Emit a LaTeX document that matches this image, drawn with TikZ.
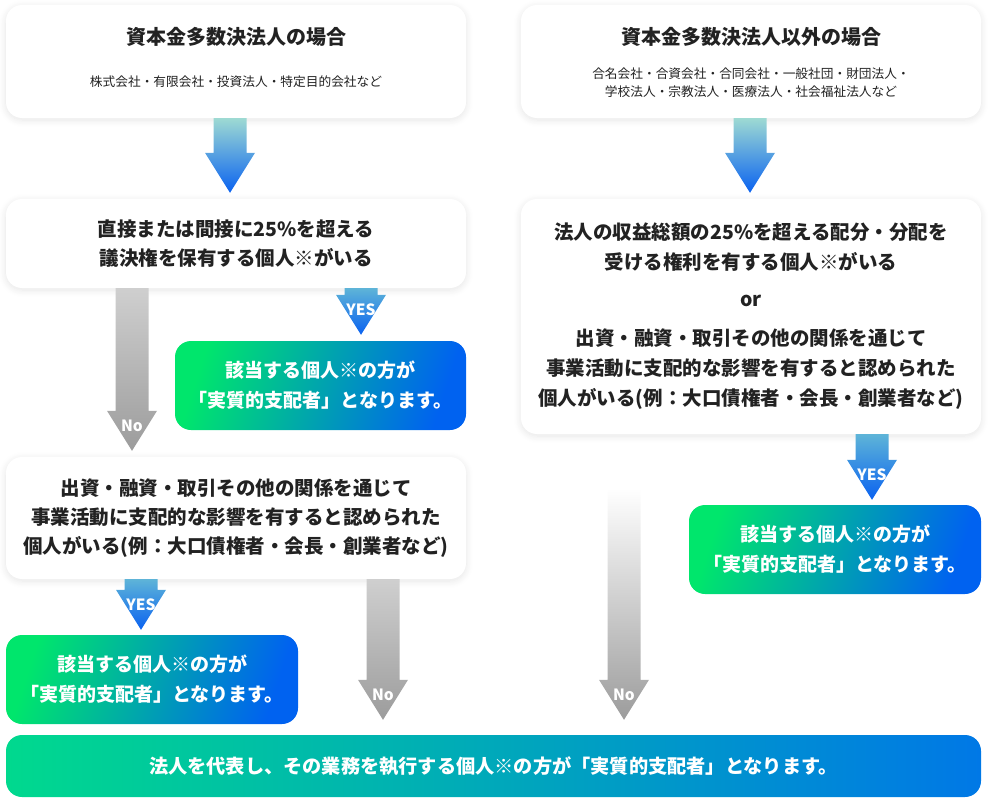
\documentclass[tikz,border=0pt]{standalone}
\usepackage{fontspec}
\setmainfont{Noto Sans CJK JP}
\usetikzlibrary{calc,shadows.blur}

\definecolor{txt}{HTML}{222222}
\definecolor{arrtop}{HTML}{9EDAD3}
\definecolor{yestop}{HTML}{5EB4D8}
\definecolor{arrbot}{HTML}{0A62F0}
\definecolor{graytop}{HTML}{CFCFCF}
\definecolor{graybot}{HTML}{9C9C9C}
\definecolor{grn}{HTML}{00E66C}
\definecolor{blu}{HTML}{0062F0}
\definecolor{grnb}{HTML}{00D98E}
\definecolor{blub}{HTML}{0078E6}

\tikzset{
  wbox/.style={fill=white, rounded corners=16pt, inner sep=0pt, minimum width=460pt,
    text=txt, align=center, font=\fontsize{19.5}{29}\selectfont\bfseries,
    blur shadow={shadow xshift=0pt, shadow yshift=-2pt, shadow blur radius=7pt,
      shadow opacity=10, shadow blur steps=10}},
  gbox/.style={rounded corners=16pt, inner sep=0pt, minimum width=292pt, minimum height=89pt,
    left color=grn, right color=blu, shading angle=72, text=white, align=center,
    font=\fontsize{19}{30}\selectfont\bfseries},
  titletext/.style={text=txt, font=\fontsize{20}{20}\selectfont\bfseries},
  subtext/.style={text=txt, align=center, font=\fontsize{12.7}{18}\selectfont},
  bluearrow/.style={top color=arrtop, bottom color=arrbot},
  yesarrow/.style={top color=yestop, bottom color=arrbot},
  grayarrow/.style={top color=graytop, bottom color=graybot},
  fadearrow/.style={top color=white, bottom color=graybot},
  lbl/.style={text=white, inner sep=0pt, font=\fontsize{15.5}{15.5}\selectfont\bfseries}
}

% block arrow: style, start, tip, label
\newcommand\flowarrow[4]{%
  \shade[#1] let \p1=(#2), \p2=(#3) in
    (\x1-16.5pt,\y1) -- (\x1+16.5pt,\y1) -- (\x1+16.5pt,\y2+40pt) -- (\x1+25pt,\y2+40pt)
    -- (\x1,\y2) -- (\x1-25pt,\y2+40pt) -- (\x1-16.5pt,\y2+40pt) -- cycle;
  \path let \p1=(#2), \p2=(#3) in node[lbl] (#2lbl) at (\x1,\y2+25pt) {#4};
}

\begin{document}
\begin{tikzpicture}[x=1pt,y=-1pt]
\useasboundingbox (0,0) rectangle (990,809);

% boxes
\node[wbox, minimum height=113pt] (A) at (236,61.5) {};
\node[titletext] (Atit) at ($(A.north)+(0,32)$) {資本金多数決法人の場合};
\node[subtext] (Asub) at ($(A.north)+(0,77)$) {株式会社・有限会社・投資法人・特定目的会社など};

\node[wbox, minimum height=113pt] (B) at (751,61.5) {};
\node[titletext] (Btit) at ($(B.north)+(0,32)$) {資本金多数決法人以外の場合};
\node[subtext] (Bsub) at ($(B.north)+(0,78)$) {合名会社・合資会社・合同会社・一般社団・財団法人・\\学校法人・宗教法人・医療法人・社会福祉法人など};

\node[wbox, minimum height=89pt] (C) at (236,243.5)
  {直接または間接に25\%を超える\\議決権を保有する個人※がいる};

\node[wbox, minimum height=235pt, font=\fontsize{19.5}{30}\selectfont\bfseries] (D) at (751,316.5)
  {法人の収益総額の25\%を超える配分・分配を\\受ける権利を有する個人※がいる\\[7pt]
   or\\[9pt]
   出資・融資・取引その他の関係を通じて\\事業活動に支配的な影響を有すると認められた\\個人がいる(例：大口債権者・会長・創業者など)};

\node[gbox, minimum width=291pt] (G1) at (320.5,385.5) {該当する個人※の方が\\「実質的支配者」となります。};

\node[wbox, minimum height=122pt] (E) at (236,518)
  {出資・融資・取引その他の関係を通じて\\事業活動に支配的な影響を有すると認められた\\個人がいる(例：大口債権者・会長・創業者など)};

\node[gbox] (G2) at (152,679.5) {該当する個人※の方が\\「実質的支配者」となります。};
\node[gbox] (G3) at (835,549.5) {該当する個人※の方が\\「実質的支配者」となります。};

\node[rounded corners=16pt, inner sep=0pt, minimum width=975pt, minimum height=62pt,
  left color=grnb, right color=blub, text=white, font=\fontsize{19.2}{19.2}\selectfont\bfseries] (F) at (493.5,766)
  {法人を代表し、その業務を執行する個人※の方が「実質的支配者」となります。};

% arrows
\coordinate (a1s) at ($(A.south)+(-6,0)$);   \coordinate (a1t) at ($(C.north)+(-6,-6)$);
\coordinate (a2s) at ($(B.south)+(-1,0)$);   \coordinate (a2t) at ($(D.north)+(-1,-6)$);
\coordinate (n1s) at ($(C.south)+(-104,0)$); \coordinate (n1t) at ($(E.north)+(-104,-6)$);
\coordinate (y1s) at ($(C.south)+(125,0)$);  \coordinate (y1t) at ($(G1.north)+(40.5,-6)$);
\coordinate (y2s) at ($(E.south)+(-95,0)$);  \coordinate (y2t) at ($(G2.north)+(-11,-5)$);
\coordinate (n2s) at ($(E.south)+(147,0)$);  \coordinate (n2t) at ($(F.north)+(-110.5,-15)$);
\coordinate (y3s) at ($(D.south)+(121,0)$);  \coordinate (y3t) at ($(G3.north)+(37,-5)$);
\coordinate (n3s) at ($(D.south)+(-127,54)$); \coordinate (n3t) at ($(F.north)+(130.5,-15)$);

\flowarrow{bluearrow}{a1s}{a1t}{}
\flowarrow{bluearrow}{a2s}{a2t}{}
\foreach \s/\t in {y1s/y1t, y2s/y2t, y3s/y3t}
  \flowarrow{yesarrow}{\s}{\t}{YES};
\foreach \s/\t in {n1s/n1t, n2s/n2t}
  \flowarrow{grayarrow}{\s}{\t}{No};
\flowarrow{fadearrow}{n3s}{n3t}{No}
\end{tikzpicture}
\end{document}
